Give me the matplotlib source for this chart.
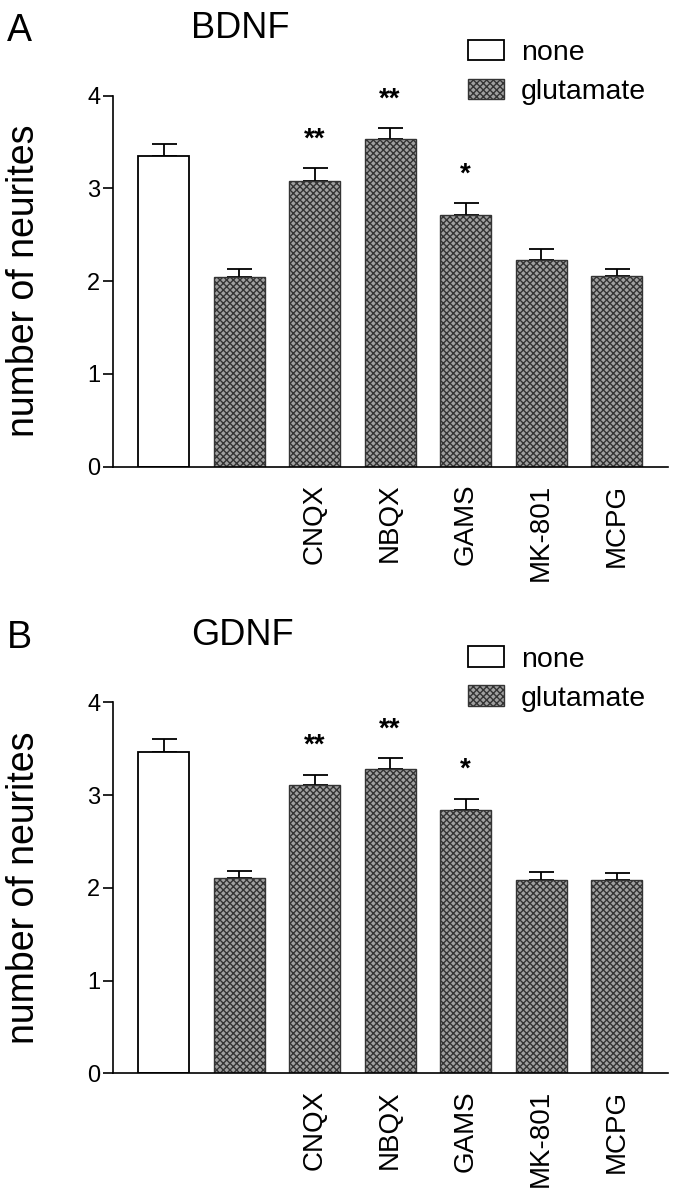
import matplotlib
matplotlib.use("Agg")
import matplotlib.pyplot as plt
import numpy as np
from matplotlib.patches import Patch

# valeurs (moyenne +/- sem)
traitements = ["", "", "CNQX", "NBQX", "GAMS", "MK-801", "MCPG"]
glutamate = [False, True, True, True, True, True, True]

bdnf_moy = [3.35, 2.05, 3.08, 3.53, 2.71, 2.23, 2.06]
bdnf_sem = [0.13, 0.08, 0.14, 0.12, 0.13, 0.12, 0.07]
bdnf_etoiles = ["", "", "**", "**", "*", "", ""]

gdnf_moy = [3.46, 2.11, 3.11, 3.28, 2.84, 2.08, 2.08]
gdnf_sem = [0.14, 0.07, 0.11, 0.12, 0.12, 0.09, 0.08]
gdnf_etoiles = ["", "", "**", "**", "*", "", ""]

yticks = [0, 1, 2, 3, 4]

plt.rcParams["font.family"] = ["Liberation Sans", "DejaVu Sans"]
plt.rcParams["hatch.linewidth"] = 1.0

GRIS = "#a0a0a0"
GRIS_FONCE = "#343434"
H = 1200.0
W = 678.0


def dessiner(fig, haut_px, lettre, titre, moy, sem, etoiles):
    haut = 1 - haut_px / H
    ax = fig.add_axes([113 / W, haut - 0.3092, 555 / W, 0.3092])
    x = np.arange(len(moy))
    barres = ax.bar(x, moy, width=0.675, zorder=2)
    for b, g in zip(barres, glutamate):
        if g:
            b.set_facecolor(GRIS)
            b.set_edgecolor(GRIS_FONCE)
            b.set_hatch("xxxxx")
            b.set_linewidth(1.0)
        else:
            b.set_facecolor("white")
            b.set_edgecolor("black")
            b.set_linewidth(1.3)
    ax.errorbar(x, moy, yerr=[np.zeros(len(sem)), sem], fmt="none",
                ecolor="black", elinewidth=1.3, capsize=9, capthick=1.3, zorder=1)
    for xi, m, s, e in zip(x, moy, sem, etoiles):
        if e:
            ax.text(xi, m + s + 0.31, e, ha="center", va="center",
                    fontsize=20, fontweight="bold", clip_on=False)

    ax.set_xlim(-0.67, 6.68)
    ax.set_ylim(0, 4)
    ax.set_yticks(yticks)
    ax.set_yticklabels([str(t) for t in yticks], fontsize=17)
    ax.set_xticks(x)
    ax.set_xticklabels(traitements, rotation=90, fontsize=20, va="top")
    ax.tick_params(axis="x", length=0, pad=12)
    ax.tick_params(axis="y", length=7, width=1.2, pad=2)
    for c in ["top", "right"]:
        ax.spines[c].set_visible(False)
    ax.spines["left"].set_linewidth(1.2)
    ax.spines["bottom"].set_linewidth(1.2)
    ax.set_ylabel("number of neurites", fontsize=27)
    ax.yaxis.set_label_coords(-0.128, 0.5)

    fig.text(7 / W, 1 - (haut_px - 54.5) / H, lettre, fontsize=27, va="baseline")
    fig.text(191 / W, 1 - (haut_px - 57.5) / H, titre, fontsize=26, va="baseline")

    poignees = [Patch(facecolor="white", edgecolor="black", linewidth=1.3, label="none"),
                Patch(facecolor=GRIS, edgecolor=GRIS_FONCE, hatch="xxxxx",
                      linewidth=1.0, label="glutamate")]
    ax.legend(handles=poignees, loc="upper left",
              bbox_to_anchor=(468 / W, 1 - (haut_px - 56) / H), bbox_transform=fig.transFigure,
              frameon=False, fontsize=20.5,
              handlelength=1.26, handleheight=0.74, handletextpad=0.6,
              labelspacing=0.45, borderpad=0, borderaxespad=0)
    return ax


fig = plt.figure(figsize=(6.78, 12), dpi=100)
dessiner(fig, 95.7, "A", "BDNF", bdnf_moy, bdnf_sem, bdnf_etoiles)
dessiner(fig, 702.3, "B", "GDNF", gdnf_moy, gdnf_sem, gdnf_etoiles)
fig.savefig("out.png", dpi=100)
